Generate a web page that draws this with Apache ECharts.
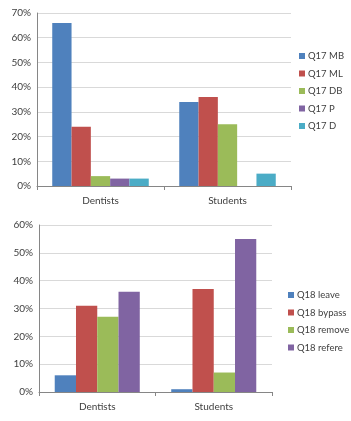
<!DOCTYPE html>
<html>
<head>
<meta charset="utf-8">
<script src="https://cdn.jsdelivr.net/npm/echarts@6/dist/echarts.min.js"></script>
<style>
  html, body { margin: 0; padding: 0; background: #fff; }
  #chart { width: 351px; height: 421px; }
</style>
</head>
<body>
<div id="chart"></div>
<script>
// data
const groups = ['Dentists', 'Students']

const q17Names = ['Q17 MB', 'Q17 ML', 'Q17 DB', 'Q17 P', 'Q17 D']
const q17MB = [66, 34]
const q17ML = [24, 36]
const q17DB = [4, 25]
const q17P = [3, 0]
const q17D = [3, 5]

const q18Names = ['Q18 leave', 'Q18 bypass', 'Q18 remove', 'Q18 refere']
const q18Leave = [6, 1]
const q18Bypass = [31, 37]
const q18Remove = [27, 7]
const q18Refere = [36, 55]

const q17Colors = ['#4F81BD', '#C0504D', '#9BBB59', '#8064A2', '#4BACC6']
const q18Colors = ['#4F81BD', '#C0504D', '#9BBB59', '#8064A2']

const font = 'Lato, "Open Sans", sans-serif'
const textColor = '#404040'

function valueAxis(gridIndex, max) {
  return {
    type: 'value',
    gridIndex: gridIndex,
    min: 0,
    max: max,
    interval: 10,
    axisLine: { show: true, lineStyle: { color: '#868686' } },
    axisTick: { show: false },
    axisLabel: {
      formatter: '{value}%',
      color: textColor,
      fontSize: 10,
      fontFamily: font,
      margin: 6
    },
    splitLine: { lineStyle: { color: '#d9d9d9' } }
  }
}

function catAxis(gridIndex) {
  return {
    type: 'category',
    gridIndex: gridIndex,
    data: groups,
    axisLine: { lineStyle: { color: '#868686' } },
    axisTick: { show: true, length: 4, lineStyle: { color: '#868686' } },
    axisLabel: { color: textColor, fontSize: 10, fontFamily: font, margin: 10 }
  }
}

function legend(names, left, top) {
  return {
    data: names,
    orient: 'vertical',
    left: left,
    top: top,
    itemWidth: 6,
    itemHeight: 6,
    itemGap: 7.5,
    icon: 'rect',
    textStyle: { color: textColor, fontSize: 9.5, fontFamily: font, padding: [0, 0, 0, -2] }
  }
}

function bars(names, values, colors, axisIndex, catGap) {
  return names.map(function (n, i) {
    return {
      name: n,
      type: 'bar',
      xAxisIndex: axisIndex,
      yAxisIndex: axisIndex,
      data: values[i],
      barGap: '0%',
      barCategoryGap: catGap,
      itemStyle: { color: colors[i] },
      silent: true
    }
  })
}

const chart = echarts.init(document.getElementById('chart'))
chart.setOption({
  animation: false,
  grid: [
    { left: 37, top: 13, width: 254, height: 173 },
    { left: 39, top: 225, width: 233, height: 167 }
  ],
  xAxis: [catAxis(0), catAxis(1)],
  yAxis: [valueAxis(0, 70), valueAxis(1, 60)],
  legend: [
    legend(q17Names, 294, 46),
    legend(q18Names, 283, 285)
  ],
  series: bars(q17Names, [q17MB, q17ML, q17DB, q17P, q17D], q17Colors, 0, '24%')
    .concat(bars(q18Names, [q18Leave, q18Bypass, q18Remove, q18Refere], q18Colors, 1, '27%'))
})
</script>
</body>
</html>
